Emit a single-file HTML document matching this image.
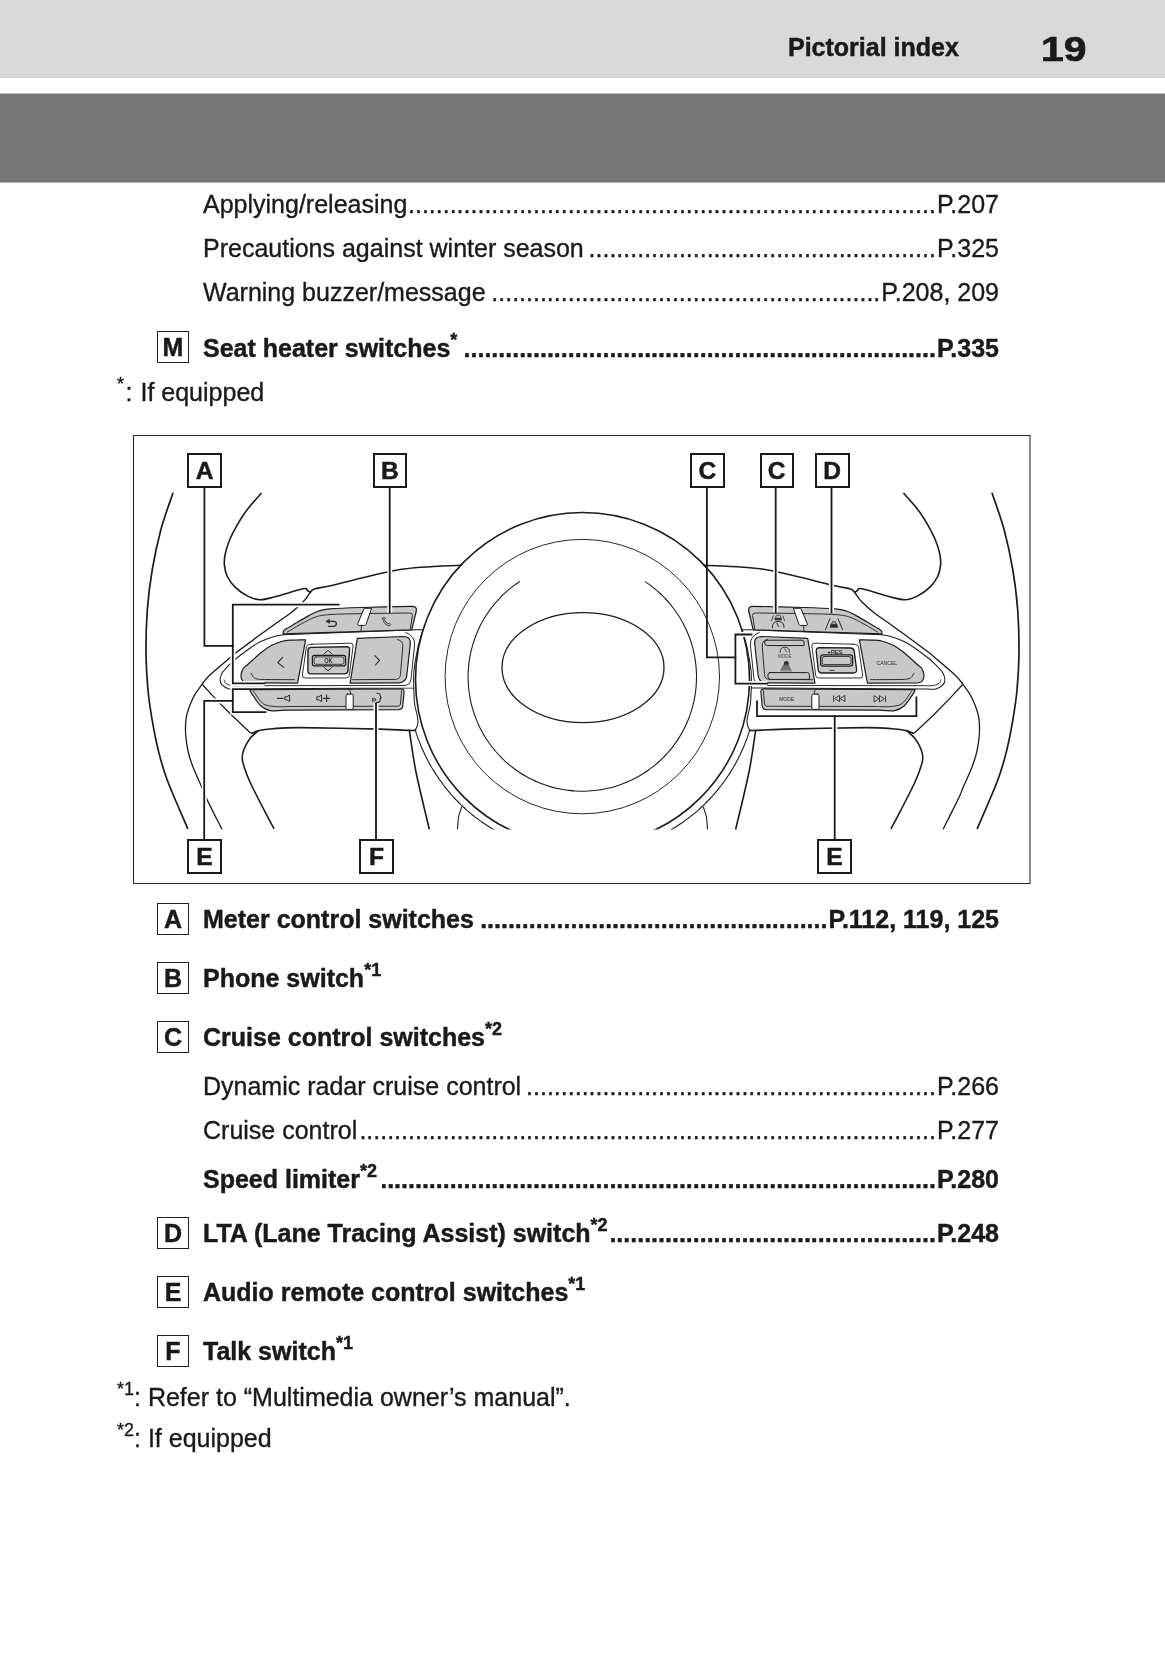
<!DOCTYPE html>
<html><head><meta charset="utf-8">
<style>
html,body{margin:0;padding:0;background:#fff;}
body{width:1165px;height:1653px;position:relative;overflow:hidden;font-family:"Liberation Sans",sans-serif;color:#1a1a1a;}
.hdr{position:absolute;left:0;top:0;width:1165px;height:78px;background:linear-gradient(#d9d9d9 0,#d9d9d9 77px,#d1d1d1 77px);}
.band{position:absolute;left:0;top:93px;width:1165px;height:90px;background:linear-gradient(#b8b8b8 0,#b8b8b8 1px,#707070 1px,#707070 2px,#777 2px,#777 88px,#6f6f6f 88px,#6f6f6f 89px,#b8b8b8 89px);}
.t{position:absolute;font-size:25px;line-height:30px;white-space:nowrap;}
.t,.row{-webkit-text-stroke:0.35px #1a1a1a;}
.b{font-weight:bold;-webkit-text-stroke:0.45px #1a1a1a;}
.row{position:absolute;left:203px;width:796px;font-size:25px;line-height:30px;white-space:nowrap;display:flex;}
.row .lab{flex:none;}
.row .dots{flex:1 1 0;overflow:hidden;direction:rtl;text-align:left;margin-right:1px;}
.row .pg{flex:none;}
.box{position:absolute;box-sizing:border-box;border:1.4px solid #222;-webkit-text-stroke:0.45px #1a1a1a;width:32px;height:32px;left:157px;font-weight:bold;font-size:25px;line-height:30px;text-align:center;}
sup{font-size:18px;vertical-align:0;position:relative;top:-11px;line-height:0;}
.lbl{position:absolute;box-sizing:border-box;border:2px solid #1a1a1a;-webkit-text-stroke:0.5px #1a1a1a;width:34.5px;height:35px;font-weight:bold;font-size:24.6px;line-height:31.2px;text-align:center;background:#fff;}
</style></head>
<body>
<div id="wrap" style="position:absolute;left:0;top:0;width:1165px;height:1653px;will-change:transform">
<div class="hdr"></div>
<div class="band"></div>
<div class="t b" style="left:788px;top:31.8px;">Pictorial index</div>
<div class="t b" style="left:1041px;top:28.6px;font-size:35.2px;line-height:40px;transform:scaleX(1.16);transform-origin:0 0;-webkit-text-stroke:0.7px #1a1a1a;">19</div>

<div class="row" style="top:189.3px"><span class="lab" style="width:203.5px">Applying/releasing</span><span class="dots">............................................................................................................................................</span><span class="pg">P.207</span></div>
<div class="row" style="top:232.9px"><span class="lab" style="width:386.5px">Precautions against winter season</span><span class="dots">............................................................................................................................................</span><span class="pg">P.325</span></div>
<div class="row" style="top:276.9px"><span class="lab" style="width:288.8px">Warning buzzer/message</span><span class="dots">............................................................................................................................................</span><span class="pg">P.208, 209</span></div>
<div class="box" style="top:331px">M</div>
<div class="row b" style="top:333.3px"><span class="lab" style="width:261px">Seat heater switches<sup>*</sup></span><span class="dots">............................................................................................................................................</span><span class="pg">P.335</span></div>
<div class="t" style="left:117px;top:377.1px"><sup>*</sup><span style="margin-left:1.5px">:</span><span style="margin-left:8px">If equipped</span></div>

<svg style="position:absolute;left:0;top:0" width="1165" height="900"><path d="M133.5 435.5H1030V883.5H133.5Z" fill="none" stroke="#2a2a2a" stroke-width="1.1"/></svg>

<div class="box" style="top:903px">A</div>
<div class="row b" style="top:904px"><span class="lab" style="width:275.6px">Meter control switches</span><span class="dots">............................................................................................................................................</span><span class="pg">P.112, 119, 125</span></div>
<div class="box" style="top:962px">B</div>
<div class="t b" style="left:203px;top:962.9px">Phone switch<sup>*1</sup></div>
<div class="box" style="top:1021px">C</div>
<div class="t b" style="left:203px;top:1022px">Cruise control switches<sup>*2</sup></div>
<div class="row" style="top:1070.9px"><span class="lab" style="width:324.29999999999995px">Dynamic radar cruise control</span><span class="dots">............................................................................................................................................</span><span class="pg">P.266</span></div>
<div class="row" style="top:1115px"><span class="lab" style="width:158.2px">Cruise control</span><span class="dots">............................................................................................................................................</span><span class="pg">P.277</span></div>
<div class="row b" style="top:1164.3px"><span class="lab" style="width:178.8px">Speed limiter<sup>*2</sup></span><span class="dots">............................................................................................................................................</span><span class="pg">P.280</span></div>
<div class="box" style="top:1217px">D</div>
<div class="row b" style="top:1218px"><span class="lab" style="width:408px">LTA (Lane Tracing Assist) switch<sup>*2</sup></span><span class="dots">............................................................................................................................................</span><span class="pg">P.248</span></div>
<div class="box" style="top:1276px">E</div>
<div class="t b" style="left:203px;top:1276.9px">Audio remote control switches<sup>*1</sup></div>
<div class="box" style="top:1335px">F</div>
<div class="t b" style="left:203px;top:1335.9px">Talk switch<sup>*1</sup></div>
<div class="t" style="left:117px;top:1381.6px"><sup>*1</sup>: Refer to “Multimedia owner’s manual”.</div>
<div class="t" style="left:117px;top:1423.1px"><sup>*2</sup>: If equipped</div>

<svg style="position:absolute;left:0;top:0" width="1165" height="1653" viewBox="0 0 1165 1653"><defs><clipPath id="cp"><rect x="134" y="436" width="895" height="393.5"/></clipPath></defs><g clip-path="url(#cp)" stroke-linecap="round" stroke-linejoin="round"><path d="M172.8 493.4C170.8 499.5 164.2 517.2 160.8 530C157.4 542.8 154.4 556.7 152.2 570C149.9 583.3 148.3 596.4 147.3 610C146.3 623.6 145.9 638.2 146 651.5C146.1 664.8 147 678.5 148 690C149 701.5 150.5 710.2 152.2 720.2C153.9 730.2 155.7 740 158.2 750C160.7 760 162.4 767.2 167.3 780.3C172.2 793.3 184.2 820.3 187.6 828.3" fill="none" stroke="#1c1c1c" stroke-width="1.7"/>
<path d="M261.1 493.4C259.5 495.3 254.2 501.2 251.3 504.6C248.5 508 246.4 510.5 244 514C241.6 517.5 239.2 521.3 236.8 525.7C234.4 530.1 231.4 535.5 229.5 540.2C227.6 544.9 226 549.9 225.2 554C224.3 558.1 224.1 561.1 224.4 564.9C224.8 568.6 225.5 572.8 227.3 576.5C229.1 580.2 231.9 584.1 235.3 587.4C238.7 590.7 243.6 594 247.7 596.1C251.8 598.2 255.4 599.6 260 599.7C264.6 599.8 267.8 598.6 275 596.8C282.2 595 297.6 589.9 303 588.8C308.4 587.7 306 589.6 307.2 590.2C308.4 590.8 309.7 592 310.2 592.4" fill="none" stroke="#1c1c1c" stroke-width="1.6"/>
<path d="M310.2 592.4C311 591.8 311.2 590 315 588.8C318.8 587.6 318.8 588.4 333 585.2C347.2 582 378.7 572.8 400 569.5C421.3 566.2 450.8 565.9 461 565.2" fill="none" stroke="#1c1c1c" stroke-width="1.6"/>
<path d="M310.2 592.4C309 594 306.4 598.6 303 602.1C299.6 605.6 295.1 609.6 290 613.5C284.9 617.4 281.6 619.2 272.6 625.7C263.6 632.2 243.3 647.1 236.2 652.5C229.1 657.9 234.4 654 230 657.8C225.6 661.5 214.5 670.9 210 675C205.5 679.1 204.3 681.4 203.2 682.7" fill="none" stroke="#1c1c1c" stroke-width="1.4"/>
<path d="M203.2 682.7C201.8 684.7 197.2 690.7 195 694.4C192.8 698.1 191.5 701.1 190 705C188.5 708.9 186.9 713.2 186.2 717.9C185.5 722.6 185.3 727.8 185.6 733.3C185.9 738.8 186.8 745.4 188 751C189.2 756.6 190.7 761 193 767C195.3 773 199.4 781.8 201.7 787.1C204 792.5 203.4 792.1 206.8 799.1C210.2 806.1 219.4 824.2 221.9 829.2" fill="none" stroke="#1c1c1c" stroke-width="1.3"/>
<path d="M202.6 684.7 L214.2 697.4 L230.7 714.3 L250 732.5 L252.1 733.3" fill="none" stroke="#1c1c1c" stroke-width="1.3"/>
<path d="M252.1 733.3C253.1 732.9 254.9 731.5 258.3 730.7C261.7 729.9 265.8 729.2 272.7 728.7C279.6 728.2 282.1 727.5 300 727.6C317.9 727.7 361.8 728.6 380 729.1C398.2 729.6 403.5 730.2 409.4 730.4C415.3 730.6 414.5 730.3 415.5 730.3" fill="none" stroke="#1c1c1c" stroke-width="1.6"/>
<path d="M258.3 730.7C256.9 732 252.3 735.5 250 738.5C247.7 741.5 245.5 745.5 244.2 748.8C242.9 752 242.1 754.8 242.2 758C242.2 761.2 243.2 764 244.5 768C245.8 772 247.1 775.7 250 782C252.9 788.3 258 798.3 262 806C266 813.7 271.8 824.6 273.8 828.3" fill="none" stroke="#1c1c1c" stroke-width="1.6"/>
<path d="M409.4 730.6C410.5 737.5 412.7 755.6 416 772C419.3 788.4 427.1 819.7 429.3 829.2" fill="none" stroke="#1c1c1c" stroke-width="1.6"/>
<path d="M461.7 807C461.2 808.7 459.3 813.3 458.6 817C457.9 820.7 457.7 827.2 457.5 829.2" fill="none" stroke="#1c1c1c" stroke-width="1.1"/>
<g transform="matrix(-1 0 0 1 1165 0)"><path d="M172.8 493.4C170.8 499.5 164.2 517.2 160.8 530C157.4 542.8 154.4 556.7 152.2 570C149.9 583.3 148.3 596.4 147.3 610C146.3 623.6 145.9 638.2 146 651.5C146.1 664.8 147 678.5 148 690C149 701.5 150.5 710.2 152.2 720.2C153.9 730.2 155.7 740 158.2 750C160.7 760 162.4 767.2 167.3 780.3C172.2 793.3 184.2 820.3 187.6 828.3" fill="none" stroke="#1c1c1c" stroke-width="1.7"/></g>
<g transform="matrix(-1 0 0 1 1165 0)"><path d="M261.1 493.4C259.5 495.3 254.2 501.2 251.3 504.6C248.5 508 246.4 510.5 244 514C241.6 517.5 239.2 521.3 236.8 525.7C234.4 530.1 231.4 535.5 229.5 540.2C227.6 544.9 226 549.9 225.2 554C224.3 558.1 224.1 561.1 224.4 564.9C224.8 568.6 225.5 572.8 227.3 576.5C229.1 580.2 231.9 584.1 235.3 587.4C238.7 590.7 243.6 594 247.7 596.1C251.8 598.2 255.4 599.6 260 599.7C264.6 599.8 267.8 598.6 275 596.8C282.2 595 297.6 589.9 303 588.8C308.4 587.7 306 589.6 307.2 590.2C308.4 590.8 309.7 592 310.2 592.4" fill="none" stroke="#1c1c1c" stroke-width="1.6"/></g>
<g transform="matrix(-1 0 0 1 1165 0)"><path d="M310.2 592.4C311 591.8 311.2 590 315 588.8C318.8 587.6 318.8 588.4 333 585.2C347.2 582 378.7 572.8 400 569.5C421.3 566.2 450.8 565.9 461 565.2" fill="none" stroke="#1c1c1c" stroke-width="1.6"/></g>
<g transform="matrix(-1 0 0 1 1165 0)"><path d="M310.2 592.4C309 594 306.4 598.6 303 602.1C299.6 605.6 295.1 609.6 290 613.5C284.9 617.4 281.6 619.2 272.6 625.7C263.6 632.2 243.3 647.1 236.2 652.5C229.1 657.9 234.4 654 230 657.8C225.6 661.5 214.5 670.9 210 675C205.5 679.1 204.3 681.4 203.2 682.7" fill="none" stroke="#1c1c1c" stroke-width="1.4"/></g>
<g transform="matrix(-1 0 0 1 1165 0)"><path d="M203.2 682.7C201.8 684.7 197.2 690.7 195 694.4C192.8 698.1 191.5 701.1 190 705C188.5 708.9 186.9 713.2 186.2 717.9C185.5 722.6 185.3 727.8 185.6 733.3C185.9 738.8 186.8 745.4 188 751C189.2 756.6 190.7 761 193 767C195.3 773 199.4 781.8 201.7 787.1C204 792.5 203.4 792.1 206.8 799.1C210.2 806.1 219.4 824.2 221.9 829.2" fill="none" stroke="#1c1c1c" stroke-width="1.3"/></g>
<g transform="matrix(-1 0 0 1 1165 0)"><path d="M202.6 684.7 L214.2 697.4 L230.7 714.3 L250 732.5 L252.1 733.3" fill="none" stroke="#1c1c1c" stroke-width="1.3"/></g>
<g transform="matrix(-1 0 0 1 1165 0)"><path d="M252.1 733.3C253.1 732.9 254.9 731.5 258.3 730.7C261.7 729.9 265.8 729.2 272.7 728.7C279.6 728.2 282.1 727.5 300 727.6C317.9 727.7 361.8 728.6 380 729.1C398.2 729.6 403.5 730.2 409.4 730.4C415.3 730.6 414.5 730.3 415.5 730.3" fill="none" stroke="#1c1c1c" stroke-width="1.6"/></g>
<g transform="matrix(-1 0 0 1 1165 0)"><path d="M258.3 730.7C256.9 732 252.3 735.5 250 738.5C247.7 741.5 245.5 745.5 244.2 748.8C242.9 752 242.1 754.8 242.2 758C242.2 761.2 243.2 764 244.5 768C245.8 772 247.1 775.7 250 782C252.9 788.3 258 798.3 262 806C266 813.7 271.8 824.6 273.8 828.3" fill="none" stroke="#1c1c1c" stroke-width="1.6"/></g>
<g transform="matrix(-1 0 0 1 1165 0)"><path d="M409.4 730.6C410.5 737.5 412.7 755.6 416 772C419.3 788.4 427.1 819.7 429.3 829.2" fill="none" stroke="#1c1c1c" stroke-width="1.6"/></g>
<g transform="matrix(-1 0 0 1 1165 0)"><path d="M461.7 807C461.2 808.7 459.3 813.3 458.6 817C457.9 820.7 457.7 827.2 457.5 829.2" fill="none" stroke="#1c1c1c" stroke-width="1.1"/></g>
<circle cx="582.5" cy="679.5" r="167" fill="none" stroke="#1c1c1c" stroke-width="1.6"/>
<path d="M415.4 730.5C415.7 731.2 416.3 733.4 416.8 734.9C417.3 736.3 417.8 737.7 418.3 739.2C418.9 740.6 419.4 742 420 743.4C420.5 744.9 421.1 746.3 421.7 747.7C422.3 749.1 422.9 750.5 423.6 751.8C424.2 753.2 424.8 754.6 425.5 756C426.2 757.3 426.9 758.7 427.6 760C428.3 761.4 429 762.7 429.7 764.1C430.5 765.4 431.2 766.7 432 768C432.8 769.3 433.6 770.6 434.4 771.9C435.2 773.2 436 774.5 436.9 775.8C437.7 777 438.6 778.3 439.4 779.5C440.3 780.8 441.2 782 442.1 783.2C443 784.4 443.9 785.7 444.9 786.9C445.8 788.1 446.8 789.2 447.7 790.4C448.7 791.6 449.7 792.7 450.7 793.9C451.7 795 452.7 796.2 453.7 797.3C454.7 798.4 455.8 799.5 456.9 800.6C457.9 801.7 459 802.8 460.1 803.9C461.2 804.9 462.3 806 463.4 807C464.5 808.1 465.6 809.1 466.7 810.1C467.9 811.1 469 812.1 470.2 813.1C471.4 814 472.6 815 473.7 815.9C474.9 816.9 476.1 817.8 477.4 818.7C478.6 819.7 479.8 820.6 481 821.4C482.3 822.3 483.5 823.2 484.8 824C486.1 824.9 487.3 825.7 488.6 826.5C489.9 827.4 491.2 828.2 492.5 828.9C493.8 829.7 495.1 830.5 496.4 831.2C497.8 832 499.8 833.1 500.4 833.4" fill="none" stroke="#1c1c1c" stroke-width="1.1"/>
<path d="M749.6 730.5C749.3 731.2 748.7 733.4 748.2 734.9C747.7 736.3 747.2 737.7 746.7 739.2C746.1 740.6 745.6 742 745 743.4C744.5 744.9 743.9 746.3 743.3 747.7C742.7 749.1 742.1 750.5 741.4 751.8C740.8 753.2 740.2 754.6 739.5 756C738.8 757.3 738.1 758.7 737.4 760C736.7 761.4 736 762.7 735.3 764.1C734.5 765.4 733.8 766.7 733 768C732.2 769.3 731.4 770.6 730.6 771.9C729.8 773.2 729 774.5 728.1 775.8C727.3 777 726.4 778.3 725.6 779.5C724.7 780.8 723.8 782 722.9 783.2C722 784.4 721.1 785.7 720.1 786.9C719.2 788.1 718.2 789.2 717.3 790.4C716.3 791.6 715.3 792.7 714.3 793.9C713.3 795 712.3 796.2 711.3 797.3C710.3 798.4 709.2 799.5 708.1 800.6C707.1 801.7 706 802.8 704.9 803.9C703.8 804.9 702.7 806 701.6 807C700.5 808.1 699.4 809.1 698.3 810.1C697.1 811.1 696 812.1 694.8 813.1C693.6 814 692.4 815 691.3 815.9C690.1 816.9 688.9 817.8 687.6 818.7C686.4 819.7 685.2 820.6 684 821.4C682.7 822.3 681.5 823.2 680.2 824C678.9 824.9 677.7 825.7 676.4 826.5C675.1 827.4 673.8 828.2 672.5 828.9C671.2 829.7 669.9 830.5 668.6 831.2C667.2 832 665.2 833.1 664.6 833.4" fill="none" stroke="#1c1c1c" stroke-width="1.1"/>
<circle cx="582.3" cy="676.6" r="137.2" fill="none" stroke="#1c1c1c" stroke-width="0.95"/>
<path d="M645.5 581.9C646.3 582.5 649 584.3 650.8 585.6C652.5 586.9 654.2 588.2 655.8 589.6C657.5 591 659.1 592.5 660.7 594C662.3 595.4 663.8 597 665.3 598.5C666.8 600.1 668.2 601.7 669.6 603.4C671 605 672.3 606.7 673.6 608.5C674.9 610.2 676.2 612 677.4 613.8C678.6 615.6 679.7 617.4 680.8 619.3C681.9 621.1 683 623 683.9 624.9C684.9 626.9 685.9 628.8 686.7 630.8C687.6 632.8 688.4 634.8 689.2 636.8C690 638.8 690.7 640.9 691.3 642.9C691.9 645 692.5 647.1 693.1 649.2C693.6 651.3 694.1 653.4 694.5 655.5C694.9 657.6 695.2 659.8 695.5 661.9C695.8 664.1 696 666.2 696.2 668.4C696.3 670.5 696.4 672.7 696.5 674.9C696.5 677 696.5 679.2 696.4 681.3C696.3 683.5 696.2 685.7 696 687.8C695.8 690 695.5 692.1 695.2 694.3C694.9 696.4 694.5 698.5 694 700.6C693.6 702.8 693.1 704.9 692.5 706.9C691.9 709 691.3 711.1 690.6 713.2C689.9 715.2 689.2 717.2 688.4 719.3C687.6 721.3 686.7 723.2 685.8 725.2C684.9 727.2 683.9 729.1 682.9 731C681.9 732.9 680.8 734.8 679.7 736.6C678.6 738.5 677.4 740.3 676.1 742.1C674.9 743.8 673.6 745.6 672.3 747.3C671 749 669.6 750.7 668.2 752.3C666.7 753.9 665.3 755.5 663.7 757.1C662.2 758.6 660.7 760.1 659.1 761.5C657.5 763 655.8 764.4 654.1 765.8C652.5 767.1 650.7 768.4 649 769.7C647.2 771 645.4 772.2 643.6 773.3C641.8 774.5 639.9 775.6 638 776.7C636.2 777.7 634.2 778.7 632.3 779.7C630.3 780.6 628.4 781.5 626.4 782.3C624.4 783.2 622.4 784 620.3 784.7C618.3 785.4 616.2 786.1 614.2 786.7C612.1 787.3 610 787.8 607.9 788.3C605.8 788.8 603.6 789.2 601.5 789.6C599.4 789.9 597.2 790.2 595.1 790.5C592.9 790.7 590.8 790.9 588.6 791C586.5 791.1 584.3 791.2 582.1 791.2C580 791.2 577.8 791.1 575.6 791C573.5 790.9 571.3 790.7 569.2 790.4C567 790.2 564.9 789.9 562.8 789.5C560.6 789.1 558.5 788.7 556.4 788.2C554.3 787.7 552.2 787.2 550.1 786.6C548.1 786 546 785.3 544 784.6C541.9 783.8 539.9 783.1 537.9 782.2C535.9 781.4 533.9 780.5 532 779.5C530.1 778.6 528.1 777.6 526.3 776.5C524.4 775.4 522.5 774.3 520.7 773.2C518.9 772 517.1 770.8 515.3 769.5C513.6 768.2 511.9 766.9 510.2 765.6C508.5 764.2 506.9 762.8 505.3 761.3C503.7 759.9 502.1 758.4 500.6 756.8C499.1 755.3 497.6 753.7 496.2 752C494.8 750.4 493.4 748.7 492.1 747C490.8 745.3 489.5 743.6 488.3 741.8C487 740 485.9 738.2 484.7 736.4C483.6 734.5 482.5 732.6 481.5 730.7C480.5 728.8 479.5 726.9 478.6 724.9C477.7 722.9 476.9 721 476.1 718.9C475.3 716.9 474.5 714.9 473.9 712.8C473.2 710.8 472.6 708.7 472 706.6C471.4 704.5 470.9 702.4 470.5 700.3C470.1 698.2 469.7 696.1 469.4 693.9C469 691.8 468.8 689.6 468.6 687.5C468.4 685.3 468.2 683.2 468.2 681C468.1 678.9 468.1 676.7 468.1 674.5C468.2 672.4 468.3 670.2 468.5 668C468.6 665.9 468.9 663.7 469.1 661.6C469.4 659.5 469.8 657.3 470.2 655.2C470.6 653.1 471.1 651 471.6 648.9C472.2 646.8 472.7 644.7 473.4 642.6C474 640.6 474.8 638.5 475.5 636.5C476.3 634.5 477.1 632.5 478 630.5C478.9 628.5 479.8 626.6 480.8 624.6C481.8 622.7 482.8 620.8 483.9 619C485 617.1 486.2 615.3 487.4 613.5C488.6 611.7 489.9 609.9 491.2 608.2C492.5 606.5 493.8 604.8 495.2 603.1C496.6 601.5 498.1 599.9 499.6 598.3C501 596.7 502.6 595.2 504.2 593.7C505.7 592.2 507.4 590.8 509 589.4C510.7 588 512.4 586.7 514.1 585.4C515.8 584.1 518.5 582.3 519.4 581.7" fill="none" stroke="#1c1c1c" stroke-width="1.1"/>
<ellipse cx="583" cy="667.6" rx="81" ry="55" fill="none" stroke="#1c1c1c" stroke-width="1.3"/>
<path d="M423.1 629.5L290 634.5C288.6 634.6 284.6 634.5 281.5 635C278.4 635.5 274.6 636.3 271.2 637.4C267.8 638.5 264.3 639.8 260.9 641.5C257.5 643.2 254.7 644.9 250.6 647.7C246.5 650.5 239.6 655.8 236.2 658.5C232.8 661.2 232.3 661.8 230 664.1C227.7 666.4 224.2 669.9 222.5 672.4C220.8 674.9 220.2 677.2 220.1 679.2C220 681.2 220.3 683.1 221.8 684.7C223.3 686.3 226.3 688.3 229.3 689C232.3 689.7 238.2 688.9 240 688.9L413.7 688C413.8 685.1 413.3 677.3 414 670.6C414.7 663.9 416.3 654.9 417.8 648C419.3 641.1 422.2 632.6 423.1 629.5" fill="none" stroke="#1c1c1c" stroke-width="1.05"/>
<path d="M413.7 688C413.9 690.7 414.1 699.7 414.6 704C415.1 708.3 416.2 710.8 416.8 713.6C417.4 716.4 417.9 718.8 418 720.8C418.1 722.8 417.8 724.1 417.3 725.7C416.9 727.3 415.6 729.5 415.3 730.3" fill="none" stroke="#1c1c1c" stroke-width="1.05"/>
<path d="M224.2 679.9C224.5 680.5 224.6 682.4 225.9 683.4C227.2 684.4 229.8 685.2 232.1 685.6C234.4 686 238.7 685.7 240 685.7L404 685.5Q410.6 685.3 411 679L414.6 645Q415.2 636.2 405.7 632.4" fill="none" stroke="#1c1c1c" stroke-width="0.95"/>
<path d="M283.2 634.4C283.2 633.9 282.8 632.4 283.4 631.4C284 630.4 284.3 630.1 286.6 628.6C288.9 627.1 293.3 624.7 297 622.5C300.7 620.3 305.5 617.5 309 615.6C312.5 613.7 314.5 612.3 318 611.2C321.5 610.1 322.7 609.5 330 608.9C337.3 608.3 348.4 607.9 362 607.5C375.6 607.1 403.2 606.5 411.5 606.3Q416.9 606.2 416.4 610.5L411.8 629.8L283.7 633.8Z" fill="#c8c8c8" stroke="#1c1c1c" stroke-width="1.2"/>
<path d="M287.3 632.1C289.4 630.9 295.4 627.1 300 624.6C304.6 622.1 310 618.9 315 617.2C320 615.5 322.1 615.2 330 614.6C337.9 614 348.9 613.9 362.1 613.6C375.4 613.3 401.6 613.1 409.5 613Q412.8 613 412.4 615.5L410.3 629.2" fill="none" stroke="#1c1c1c" stroke-width="0.9"/>
<path d="M364.6 608.3L371.6 608.3L366 624.6Q365.6 625.4 364.6 625.4L358.6 625.4Q357.2 625.2 357.6 624Z" fill="#fff" stroke="#1c1c1c" stroke-width="1.0"/>
<path d="M361.5 625.4L361 630.6" fill="none" stroke="#1c1c1c" stroke-width="0.9"/>
<path d="M242.6 680.6C242.4 680.1 241.4 678.9 241.2 677.6C241 676.3 241 674.4 241.4 672.8C241.8 671.2 242.6 669.4 243.6 668C244.6 666.6 244.6 667.2 247.5 664.7C250.4 662.2 256.9 656 260.9 652.8C264.8 649.6 267.8 647.5 271.2 645.6C274.6 643.7 278.4 642.4 281.5 641.5C284.6 640.6 286 640.5 290 640.2C294 639.9 303 639.9 305.6 639.8L297.6 683.2L247 682.8Q243.4 682.6 242.6 680.6Z" fill="#c8c8c8" stroke="#1c1c1c" stroke-width="1.2"/>
<path d="M251.1 673.2C251.6 673.9 252.6 676.4 253.8 677.4C255 678.4 256.1 678.9 258.5 679.2C260.9 679.6 262 679.4 268 679.5C274 679.6 289.9 679.6 294.3 679.6" fill="none" stroke="#1c1c1c" stroke-width="0.9"/>
<path d="M312 644.2L350.6 643.2Q353.4 643.2 353.1 646L349.3 675.4Q349 678 346.3 678L305 678Q302 678 302.4 675L306.4 647Q306.8 644.3 312 644.2Z" fill="none" stroke="#1c1c1c" stroke-width="0.9"/>
<path d="M357.3 638.3L403.5 636.5Q410.8 636.5 410.3 643.5L406.8 675.5Q406 682.6 398.9 682.8L350.1 683.2Z" fill="#c8c8c8" stroke="#1c1c1c" stroke-width="1.2"/>
<path d="M397.4 639.6Q403.2 640.6 402.8 646L400.5 674.5Q400.2 679.2 395.5 679.4L352.5 679.7" fill="none" stroke="#1c1c1c" stroke-width="0.9"/>
<path d="M249.8 689.6C250.1 690.3 250 691 251.8 693.7C253.7 696.4 257.8 703.2 260.9 706C264 708.8 266.5 709.9 270.5 710.6C274.5 711.3 282.6 710.3 285 710.2L398.9 709.6Q402.6 709.4 402.8 705.8L404.1 692Q404.2 688.8 401 688.8Z" fill="#c8c8c8" stroke="#1c1c1c" stroke-width="1.2"/>
<path d="M253.4 690.9C253.8 691.6 254.3 692.8 256 695C257.7 697.2 260.5 702.1 263.7 704C266.9 705.9 270.6 706.2 275 706.6C279.4 707 287.5 706.5 290 706.5L398.6 706.2Q400.2 706 400.4 704L401.6 690.6" fill="none" stroke="#1c1c1c" stroke-width="0.9"/>
<path d="M347.6 694.1L351.6 694.1Q353.2 694.1 353.2 695.7L353.2 707.8Q353.2 709.4 351.6 709.4L347.6 709.4Q346 709.4 346 707.8L346 695.7Q346 694.1 347.6 694.1Z" fill="#fff" stroke="#1c1c1c" stroke-width="1.0"/>
<path d="M348 689Q350.6 689.6 350.8 694" fill="none" stroke="#1c1c1c" stroke-width="0.9"/>
<g transform="matrix(-1 0 0 1 1165 0)"><path d="M423.1 629.5L290 634.5C288.6 634.6 284.6 634.5 281.5 635C278.4 635.5 274.6 636.3 271.2 637.4C267.8 638.5 264.3 639.8 260.9 641.5C257.5 643.2 254.7 644.9 250.6 647.7C246.5 650.5 239.6 655.8 236.2 658.5C232.8 661.2 232.3 661.8 230 664.1C227.7 666.4 224.2 669.9 222.5 672.4C220.8 674.9 220.2 677.2 220.1 679.2C220 681.2 220.3 683.1 221.8 684.7C223.3 686.3 226.3 688.3 229.3 689C232.3 689.7 238.2 688.9 240 688.9L413.7 688C413.8 685.1 413.3 677.3 414 670.6C414.7 663.9 416.3 654.9 417.8 648C419.3 641.1 422.2 632.6 423.1 629.5" fill="none" stroke="#1c1c1c" stroke-width="1.05"/><path d="M413.7 688C413.9 690.7 414.1 699.7 414.6 704C415.1 708.3 416.2 710.8 416.8 713.6C417.4 716.4 417.9 718.8 418 720.8C418.1 722.8 417.8 724.1 417.3 725.7C416.9 727.3 415.6 729.5 415.3 730.3" fill="none" stroke="#1c1c1c" stroke-width="1.05"/><path d="M224.2 679.9C224.5 680.5 224.6 682.4 225.9 683.4C227.2 684.4 229.8 685.2 232.1 685.6C234.4 686 238.7 685.7 240 685.7L404 685.5Q410.6 685.3 411 679L414.6 645Q415.2 636.2 405.7 632.4" fill="none" stroke="#1c1c1c" stroke-width="0.95"/><path d="M283.2 634.4C283.2 633.9 282.8 632.4 283.4 631.4C284 630.4 284.3 630.1 286.6 628.6C288.9 627.1 293.3 624.7 297 622.5C300.7 620.3 305.5 617.5 309 615.6C312.5 613.7 314.5 612.3 318 611.2C321.5 610.1 322.7 609.5 330 608.9C337.3 608.3 348.4 607.9 362 607.5C375.6 607.1 403.2 606.5 411.5 606.3Q416.9 606.2 416.4 610.5L411.8 629.8L283.7 633.8Z" fill="#c8c8c8" stroke="#1c1c1c" stroke-width="1.2"/><path d="M287.3 632.1C289.4 630.9 295.4 627.1 300 624.6C304.6 622.1 310 618.9 315 617.2C320 615.5 322.1 615.2 330 614.6C337.9 614 348.9 613.9 362.1 613.6C375.4 613.3 401.6 613.1 409.5 613Q412.8 613 412.4 615.5L410.3 629.2" fill="none" stroke="#1c1c1c" stroke-width="0.9"/><path d="M364.6 608.3L371.6 608.3L366 624.6Q365.6 625.4 364.6 625.4L358.6 625.4Q357.2 625.2 357.6 624Z" fill="#fff" stroke="#1c1c1c" stroke-width="1.0"/><path d="M361.5 625.4L361 630.6" fill="none" stroke="#1c1c1c" stroke-width="0.9"/><path d="M242.6 680.6C242.4 680.1 241.4 678.9 241.2 677.6C241 676.3 241 674.4 241.4 672.8C241.8 671.2 242.6 669.4 243.6 668C244.6 666.6 244.6 667.2 247.5 664.7C250.4 662.2 256.9 656 260.9 652.8C264.8 649.6 267.8 647.5 271.2 645.6C274.6 643.7 278.4 642.4 281.5 641.5C284.6 640.6 286 640.5 290 640.2C294 639.9 303 639.9 305.6 639.8L297.6 683.2L247 682.8Q243.4 682.6 242.6 680.6Z" fill="#c8c8c8" stroke="#1c1c1c" stroke-width="1.2"/><path d="M251.1 673.2C251.6 673.9 252.6 676.4 253.8 677.4C255 678.4 256.1 678.9 258.5 679.2C260.9 679.6 262 679.4 268 679.5C274 679.6 289.9 679.6 294.3 679.6" fill="none" stroke="#1c1c1c" stroke-width="0.9"/><path d="M312 644.2L350.6 643.2Q353.4 643.2 353.1 646L349.3 675.4Q349 678 346.3 678L305 678Q302 678 302.4 675L306.4 647Q306.8 644.3 312 644.2Z" fill="none" stroke="#1c1c1c" stroke-width="0.9"/><path d="M357.3 638.3L403.5 636.5Q410.8 636.5 410.3 643.5L406.8 675.5Q406 682.6 398.9 682.8L350.1 683.2Z" fill="#c8c8c8" stroke="#1c1c1c" stroke-width="1.2"/><path d="M397.4 639.6Q403.2 640.6 402.8 646L400.5 674.5Q400.2 679.2 395.5 679.4L352.5 679.7" fill="none" stroke="#1c1c1c" stroke-width="0.9"/><path d="M249.8 689.6C250.1 690.3 250 691 251.8 693.7C253.7 696.4 257.8 703.2 260.9 706C264 708.8 266.5 709.9 270.5 710.6C274.5 711.3 282.6 710.3 285 710.2L398.9 709.6Q402.6 709.4 402.8 705.8L404.1 692Q404.2 688.8 401 688.8Z" fill="#c8c8c8" stroke="#1c1c1c" stroke-width="1.2"/><path d="M253.4 690.9C253.8 691.6 254.3 692.8 256 695C257.7 697.2 260.5 702.1 263.7 704C266.9 705.9 270.6 706.2 275 706.6C279.4 707 287.5 706.5 290 706.5L398.6 706.2Q400.2 706 400.4 704L401.6 690.6" fill="none" stroke="#1c1c1c" stroke-width="0.9"/><path d="M347.6 694.1L351.6 694.1Q353.2 694.1 353.2 695.7L353.2 707.8Q353.2 709.4 351.6 709.4L347.6 709.4Q346 709.4 346 707.8L346 695.7Q346 694.1 347.6 694.1Z" fill="#fff" stroke="#1c1c1c" stroke-width="1.0"/><path d="M348 689Q350.6 689.6 350.8 694" fill="none" stroke="#1c1c1c" stroke-width="0.9"/></g>
<path d="M311 647.4L346.8 646.8Q350 646.8 349.6 650L347.9 670.8Q347.6 673.9 344.5 673.9L311 673.9Q307.8 673.9 307.9 670.7L308 650.6Q308 647.4 311 647.4Z" fill="#c8c8c8" stroke="#1c1c1c" stroke-width="1.4"/>
<path d="M314.6 655.3L343.4 655.3Q345.6 655.3 345.6 657.5L345.6 663.7Q345.6 665.9 343.4 665.9L314.6 665.9Q312.4 665.9 312.4 663.7L312.4 657.5Q312.4 655.3 314.6 655.3Z" fill="#c8c8c8" stroke="#1c1c1c" stroke-width="1.2"/>
<path d="M316 656.9L342 656.9Q343.9 656.9 343.9 658.8L343.9 662.4Q343.9 664.3 342 664.3L316 664.3Q314.1 664.3 314.1 662.4L314.1 658.8Q314.1 656.9 316 656.9Z" fill="none" stroke="#1c1c1c" stroke-width="0.8"/>
<text x="0" y="0" font-family="Liberation Sans" font-weight="bold" font-size="7" text-anchor="middle" fill="#2a2a2a" transform="translate(328.4 662.9) scale(0.8 1)">OK</text>
<path d="M324 654L328 650.3L332 654" fill="none" stroke="#1c1c1c" stroke-width="0.9"/>
<path d="M324 667.2L328 670.9L332 667.2" fill="none" stroke="#1c1c1c" stroke-width="0.9"/>
<path d="M282.6 657.4L277.8 662.6L283.8 667.4" fill="none" stroke="#2a2a2a" stroke-width="1.1"/>
<path d="M374.8 655.6L379.6 660.4L375.4 665" fill="none" stroke="#2a2a2a" stroke-width="1.1"/>
<path d="M327 621.3L333.6 621.3Q336.4 621.3 336.4 623.8Q336.4 626.3 333.6 626.3L328.6 626.3" fill="none" stroke="#2a2a2a" stroke-width="1.2"/>
<path d="M329.2 619.4L326 621.3L329.2 623.2Z" fill="#2a2a2a" stroke="#2a2a2a" stroke-width="0.7"/>
<path d="M382.6 618.4L384.2 617.2L385.4 618.8L384.4 619.8Q385.4 622.6 388.2 623.8L389.4 623L390.8 624.4L389.6 625.8Q383.6 625.2 382.6 618.4Z" fill="none" stroke="#2a2a2a" stroke-width="0.9"/>
<path d="M277.4 698.4L283 698.4" fill="none" stroke="#2a2a2a" stroke-width="1.1"/>
<path d="M285.2 696.8L286.8 696.8L289.6 695L289.6 701.6L286.8 699.8L285.2 699.8Z" fill="none" stroke="#2a2a2a" stroke-width="1.0"/>
<path d="M317.2 696.8L318.8 696.8L321.6 695L321.6 701.6L318.8 699.8L317.2 699.8Z" fill="none" stroke="#2a2a2a" stroke-width="1.0"/>
<path d="M323.4 698.4L329.8 698.4M326.6 695L326.6 701.6" fill="none" stroke="#2a2a2a" stroke-width="1.1"/>
<path d="M376.8 693.2Q380.4 693 380.2 695.4Q380 697 381.4 697.8Q379.6 698.6 380 700.4Q380.2 702.6 376.6 702.6" fill="none" stroke="#2a2a2a" stroke-width="1.1"/>
<circle cx="374.4" cy="699.6" r="1.3" fill="none" stroke="#2a2a2a" stroke-width="0.9"/>
<path d="M372.6 698L372.6 701.6" fill="none" stroke="#2a2a2a" stroke-width="0.8"/>
<path d="M771.6 620.6L773.4 615.8M784.6 620.6L782.8 615.8" fill="none" stroke="#2a2a2a" stroke-width="0.8"/>
<path d="M775.4 619.4L776 616.4Q776.2 615.2 777.4 615.2L779.2 615.2Q780.4 615.2 780.6 616.4L781.2 619.4Z" fill="#c8c8c8" stroke="#2a2a2a" stroke-width="0.8"/>
<path d="M775.4 618.2L781.2 618.2L781.2 619.8L775.4 619.8Z" fill="#2a2a2a" stroke="#2a2a2a" stroke-width="0.6"/>
<path d="M772.4 627.6Q772 621.6 778.2 621.4Q784.4 621.6 784 627.6" fill="none" stroke="#2a2a2a" stroke-width="1.0"/>
<path d="M777 623.2L778.6 626.4" fill="none" stroke="#2a2a2a" stroke-width="1.0"/>
<path d="M825.4 629.6L830 618.6M838 618.6L842.6 629.6" fill="none" stroke="#2a2a2a" stroke-width="1.0"/>
<path d="M830.2 627.2L830.8 624.2L837 624.2L837.6 627.2Z" fill="#2a2a2a" stroke="#2a2a2a" stroke-width="0.6"/>
<path d="M831.6 624.2L832.4 621.8L835.4 621.8L836.2 624.2" fill="none" stroke="#2a2a2a" stroke-width="0.9"/>
<path d="M766.4 640.2L802 640.2Q804.4 640.4 804.2 643L804 645.6L767.6 645.6Q765 645.6 764.6 643.2Q764.4 640.2 766.4 640.2Z" fill="#c8c8c8" stroke="#1c1c1c" stroke-width="1.0"/>
<path d="M769.6 672.6L807.4 672.6Q809.4 672.6 809.4 675L809.4 679.4L771 679.4Q768.2 679.4 767.8 676.4Q767.6 672.6 769.6 672.6Z" fill="#c8c8c8" stroke="#1c1c1c" stroke-width="1.0"/>
<path d="M780.2 652.4Q779.6 647.4 784.8 647.2Q790 647.4 789.4 652.4" fill="none" stroke="#2a2a2a" stroke-width="0.9"/>
<path d="M784.6 648.8L786.4 651.6" fill="none" stroke="#2a2a2a" stroke-width="0.8"/>
<text x="0" y="0" font-family="Liberation Sans" font-size="5" text-anchor="middle" fill="#444" transform="translate(784.8 658) scale(0.9 1)">MODE</text>
<path d="M780.6 670.8L783.4 665L788.4 665L791.4 670.8Z" fill="#8a8a8a" stroke="#555" stroke-width="0.5"/>
<path d="M781.4 668.8L790.4 668.8M782.4 666.8L789.4 666.8" fill="none" stroke="#555" stroke-width="0.7"/>
<path d="M784 664.8L784.4 662.2Q784.6 661.4 785.4 661.4L787.2 661.4Q788 661.4 788.2 662.2L788.6 664.8Z" fill="#2a2a2a" stroke="#2a2a2a" stroke-width="0.5"/>
<path d="M819.6 647.6L850.6 648Q853.8 648.2 854.2 651.2L856.6 669.4Q857 673 853.4 673L822 673Q818.6 673 818.2 669.6L816.2 651Q816 647.6 819.6 647.6Z" fill="#c8c8c8" stroke="#1c1c1c" stroke-width="1.3"/>
<path d="M823.2 654.9L850 654.9Q852.6 654.9 852.6 657.5L852.6 663.5Q852.6 666.1 850 666.1L823.2 666.1Q820.6 666.1 820.6 663.5L820.6 657.5Q820.6 654.9 823.2 654.9Z" fill="#c8c8c8" stroke="#1c1c1c" stroke-width="1.2"/>
<path d="M824.2 656.5L849 656.5Q851 656.5 851 658.5L851 662.5Q851 664.5 849 664.5L824.2 664.5Q822.2 664.5 822.2 662.5L822.2 658.5Q822.2 656.5 824.2 656.5Z" fill="none" stroke="#1c1c1c" stroke-width="0.8"/>
<text x="0" y="0" font-family="Liberation Sans" font-size="6.2" text-anchor="middle" fill="#222" stroke="#222" stroke-width="0.15" transform="translate(835.1 654.2) scale(0.92 1)">+RES</text>
<path d="M829.9 670.4L834.2 670.4" fill="none" stroke="#2a2a2a" stroke-width="0.9"/>
<text x="0" y="0" font-family="Liberation Sans" font-size="6" text-anchor="middle" fill="#2a2a2a" transform="translate(886.8 664.8) scale(0.85 1)">CANCEL</text>
<text x="0" y="0" font-family="Liberation Sans" font-size="5.4" text-anchor="middle" fill="#2a2a2a" transform="translate(786.6 700.8) scale(0.9 1)">MODE</text>
<path d="M833.6 695.8L833.6 701.4M839.2 695.6L834.6 698.5L839.2 701.4ZM844.6 695.6L840 698.5L844.6 701.4Z" fill="none" stroke="#2a2a2a" stroke-width="0.9"/>
<path d="M885.6 696L885.6 701.8M874.4 695.8L879 698.8L874.4 701.8ZM879.8 695.8L884.4 698.8L879.8 701.8Z" fill="none" stroke="#2a2a2a" stroke-width="0.9"/></g><path d="M204.4 487 L204.4 645.8 L232.8 645.8" fill="none" stroke="#fff" stroke-width="5" stroke-linecap="butt"/>
<path d="M338.7 604.7 L232.8 604.7 L232.8 683.4 L264.5 683.4" fill="none" stroke="#fff" stroke-width="5" stroke-linecap="butt"/>
<path d="M389.7 487 L389.7 612.6" fill="none" stroke="#fff" stroke-width="5" stroke-linecap="butt"/>
<path d="M204.2 839.5 L204.2 700.9 L232.8 700.9" fill="none" stroke="#fff" stroke-width="5" stroke-linecap="butt"/>
<path d="M248.9 689.2 L232.8 689.2 L232.8 712.2 L265.5 712.2" fill="none" stroke="#fff" stroke-width="5" stroke-linecap="butt"/>
<path d="M376 703.4 L376 839.7" fill="none" stroke="#fff" stroke-width="5" stroke-linecap="butt"/>
<path d="M751.6 634.5 L735.4 634.5 L735.4 683.6 L767.3 683.6" fill="none" stroke="#fff" stroke-width="5" stroke-linecap="butt"/>
<path d="M775.7 487 L775.7 612.2" fill="none" stroke="#fff" stroke-width="5" stroke-linecap="butt"/>
<path d="M831.5 487 L831.5 612.6" fill="none" stroke="#fff" stroke-width="5" stroke-linecap="butt"/>
<path d="M757 701.4 L757 716.1 L916.4 716.1 L916.4 697.4" fill="none" stroke="#fff" stroke-width="5" stroke-linecap="butt"/>
<path d="M834.7 716.1 L834.7 839.5" fill="none" stroke="#fff" stroke-width="5" stroke-linecap="butt"/><path d="M204.4 487 L204.4 645.8 L232.8 645.8" fill="none" stroke="#1a1a1a" stroke-width="1.8" stroke-linecap="square" stroke-linejoin="miter"/>
<path d="M338.7 604.7 L232.8 604.7 L232.8 683.4 L264.5 683.4" fill="none" stroke="#1a1a1a" stroke-width="1.8" stroke-linecap="square" stroke-linejoin="miter"/>
<path d="M389.7 487 L389.7 612.6" fill="none" stroke="#1a1a1a" stroke-width="1.8" stroke-linecap="square" stroke-linejoin="miter"/>
<path d="M204.2 839.5 L204.2 700.9 L232.8 700.9" fill="none" stroke="#1a1a1a" stroke-width="1.8" stroke-linecap="square" stroke-linejoin="miter"/>
<path d="M248.9 689.2 L232.8 689.2 L232.8 712.2 L265.5 712.2" fill="none" stroke="#1a1a1a" stroke-width="1.8" stroke-linecap="square" stroke-linejoin="miter"/>
<path d="M376 703.4 L376 839.7" fill="none" stroke="#1a1a1a" stroke-width="1.8" stroke-linecap="square" stroke-linejoin="miter"/>
<path d="M706.9 487 L706.9 657.3 L735.4 657.3" fill="none" stroke="#1a1a1a" stroke-width="1.8" stroke-linecap="square" stroke-linejoin="miter"/>
<path d="M751.6 634.5 L735.4 634.5 L735.4 683.6 L767.3 683.6" fill="none" stroke="#1a1a1a" stroke-width="1.8" stroke-linecap="square" stroke-linejoin="miter"/>
<path d="M775.7 487 L775.7 612.2" fill="none" stroke="#1a1a1a" stroke-width="1.8" stroke-linecap="square" stroke-linejoin="miter"/>
<path d="M831.5 487 L831.5 612.6" fill="none" stroke="#1a1a1a" stroke-width="1.8" stroke-linecap="square" stroke-linejoin="miter"/>
<path d="M757 701.4 L757 716.1 L916.4 716.1 L916.4 697.4" fill="none" stroke="#1a1a1a" stroke-width="1.8" stroke-linecap="square" stroke-linejoin="miter"/>
<path d="M834.7 716.1 L834.7 839.5" fill="none" stroke="#1a1a1a" stroke-width="1.8" stroke-linecap="square" stroke-linejoin="miter"/></svg><div class="lbl" style="left:187.3px;top:452.9px">A</div><div class="lbl" style="left:372.6px;top:452.9px">B</div><div class="lbl" style="left:690.1px;top:453.1px">C</div><div class="lbl" style="left:759.5px;top:453.1px">C</div><div class="lbl" style="left:815px;top:453.1px">D</div><div class="lbl" style="left:187.3px;top:839px">E</div><div class="lbl" style="left:359.3px;top:839.2px">F</div><div class="lbl" style="left:817.1px;top:839px">E</div>
</div>
</body></html>
